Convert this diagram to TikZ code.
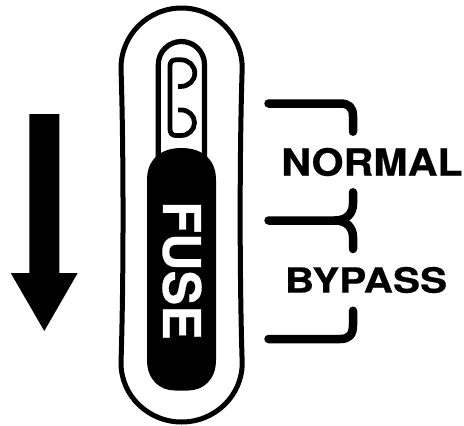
\documentclass[tikz,border=0pt]{standalone}
\usepackage{fontspec}
\setmainfont{TeX Gyre Heros}[BoldFeatures={FakeBold=0.5}]
\tikzset{
 ln/.style={line width=#1,line cap=round,line join=round,black},
 lab/.style={font=\bfseries\fontsize{#1}{#1}\selectfont,inner sep=0pt,text=black}
}
\begin{document}
\begin{tikzpicture}[x=1pt,y=-1pt]
\useasboundingbox (0,0) rectangle (464,426);
% arrow
\fill[black] (29.3,114) -- (59.3,114) -- (59.3,273) -- (77.7,273) -- (44.3,331) -- (10.7,273) -- (29.3,273) -- cycle;
% outer capsule
\draw[ln=5pt] (121,68) arc[start angle=180,end angle=360,x radius=60.6,y radius=60]
  .. controls (239.5,150) and (239.5,280) .. (242.2,363)
  arc[start angle=0,end angle=180,x radius=60.6,y radius=59]
  .. controls (123.7,280) and (123.7,150) .. (121,68) -- cycle;
% inner capsule
\draw[ln=5.2pt,line cap=butt] (158.3,160) -- (158.3,64.5) arc[start angle=180,end angle=360,x radius=23.1,y radius=23] -- (204.5,160);
% squiggle
\draw[ln=4.8pt,line cap=butt] (178,86.4) -- (181,86.4) arc[start angle=90,end angle=-90,x radius=13.8,y radius=13.3] -- (176,59.8) .. controls (172,59.8) and (170,62) .. (170,66) -- (170,129) .. controls (170,133) and (172,135.5) .. (176,135.5) -- (181,135.5) arc[start angle=90,end angle=-90,x radius=13.5,y radius=12.8] -- (178,109.9);
% fuse body
\fill[black] (147,180) .. controls (147,160) and (160,148) .. (181.5,148) .. controls (203,148) and (216,160) .. (216,180) -- (216,360) .. controls (216,380) and (203,390.5) .. (188,390.5) -- (175,390.5) .. controls (160,390.5) and (147,380) .. (147,360) -- cycle;
\node[lab=52,text=white,rotate=-90] (fuse) at (182,270.5) {FUSE};
% brackets
\draw[ln=8.5pt] (268.5,103.5) -- (340,103.5) .. controls (349,103.5) and (353,107.5) .. (353,116) -- (353,131.7);
\draw[ln=8.5pt] (268.5,220.5) -- (335,220.5) .. controls (347,220.5) and (353,213) .. (353,204) -- (353,192.3);
\draw[ln=8.5pt] (335,220.5) .. controls (347,220.5) and (353,228) .. (353,237) -- (353,249);
\draw[ln=8.5pt] (353,310.7) -- (353,325) .. controls (353,335) and (349,339) .. (340,339) -- (268.5,339);
% labels
\node[lab=37.5,xscale=1.1] (normal) at (372,162) {NORMAL};
\node[lab=34.7,xscale=1.17] (bypass) at (366,280) {BYPASS};
\end{tikzpicture}
\end{document}
